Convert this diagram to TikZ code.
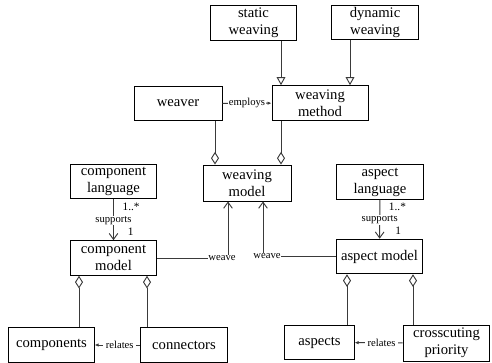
\documentclass[tikz,border=0pt]{standalone}
\usepackage{fontspec}
\setmainfont{Liberation Serif}
\usetikzlibrary{arrows.meta}
\definecolor{ink}{HTML}{3A3A3A}

\begin{document}
\begin{tikzpicture}[
    x=0.75pt,y=-0.75pt,
    cls/.style={draw=black,line width=0.7pt,fill=white,align=center,inner sep=1pt,
      minimum width=65pt,minimum height=26pt,font=\fontsize{11}{12.8}\selectfont},
    lbl/.style={fill=white,inner sep=0.4pt,font=\fontsize{8}{9}\selectfont},
    mult/.style={inner sep=0pt,font=\fontsize{8.5}{9}\selectfont},
    link/.style={draw=ink,line width=0.7pt},
    gen/.style={link,-{Triangle[open,length=6pt,width=6.5pt]}},
    part/.style={link,{Diamond[open,length=9.5pt,width=6pt]}-},
    nav/.style={link,-{Straight Barb[length=4.5pt,width=6.5pt]}},
    dep/.style={link,-{Latex[length=3pt,width=2.6pt]}}]
    \useasboundingbox (0,0) rectangle (492,363);
    % classes
    \node[cls] (static) at (253.5,23) {static\\weaving};
    \node[cls] (dynamic) at (375,22.5) {dynamic\\weaving};
    \node[cls,minimum width=66pt] (weaver) at (178,103.5) {weaver};
    \node[cls,minimum width=72pt] (method) at (320,103) {weaving\\method};
    \node[cls,minimum width=66pt,minimum height=27pt] (wmodel) at (247,183) {weaving\\model};
    \node[cls] (complang) at (113.5,181.5) {component\\language};
    \node[cls] (asplang) at (380,182) {aspect\\language};
    \node[cls] (compmodel) at (113.5,258) {component\\model};
    \node[cls] (aspmodel) at (379.5,256.5) {aspect model};
    \node[cls,minimum width=64pt] (components) at (51.5,345) {components};
    \node[cls] (connectors) at (184,345) {connectors};
    \node[cls,minimum width=52pt] (aspects) at (319.5,342.5) {aspects};
    \node[cls,minimum height=27pt] (crossprio) at (446.5,343) {crosscuting\\priority};
    % generalisation
    \draw[gen] ([shift={(27.5,0)}]static.south) -- ([shift={(27.5,0)}]static.south |- method.north);
    \draw[gen] ([shift={(-25,0)}]dynamic.south) -- ([shift={(-25,0)}]dynamic.south |- method.north);
    \draw[dep] (weaver) -- node[lbl]{employs} (method);
    % aggregation
    \draw[part] ([shift={(37,0)}]weaver.south |- wmodel.north) -- ([shift={(37,0)}]weaver.south);
    \draw[part] ([shift={(-39,0)}]method.south |- wmodel.north) -- ([shift={(-39,0)}]method.south);
    \draw[part] ([shift={(-34.5,0)}]compmodel.south) -- ([shift={(-34.5,0)}]compmodel.south |- components.north);
    \draw[part] ([shift={(33.5,0)}]compmodel.south) -- ([shift={(33.5,0)}]compmodel.south |- connectors.north);
    \draw[part] ([shift={(-32.5,0)}]aspmodel.south) -- ([shift={(-32.5,0)}]aspmodel.south |- aspects.north);
    \draw[part] ([shift={(33.5,0)}]aspmodel.south) -- ([shift={(33.5,0)}]aspmodel.south |- crossprio.north);
    \draw[dep] (connectors) -- node[lbl,pos=0.45,inner xsep=2pt]{relates} (components);
    \draw[dep] (crossprio) -- node[lbl,pos=0.44,inner xsep=2pt]{relates} (aspects);
    % languages
    \draw[nav] (complang) -- node[lbl,pos=0.52]{supports}
      node[mult,pos=0.18,right=6.5pt]{1..*} node[mult,pos=0.8,right=10.5pt]{1} (compmodel);
    \draw[nav] (asplang) -- node[lbl,pos=0.52]{supports}
      node[mult,pos=0.18,right=6.5pt]{1..*} node[mult,pos=0.8,right=11.5pt]{1} (aspmodel);
    % weave
    \coordinate (wl) at (228,258);
    \coordinate (wr) at (263,256.5);
    \draw[nav] (compmodel.east) -- node[lbl,pos=0.915]{weave} (wl) -- (wl |- wmodel.south);
    \draw[nav] (aspmodel.west) -- node[lbl,pos=0.945]{weave} (wr) -- (wr |- wmodel.south);
  \end{tikzpicture}
\end{document}
